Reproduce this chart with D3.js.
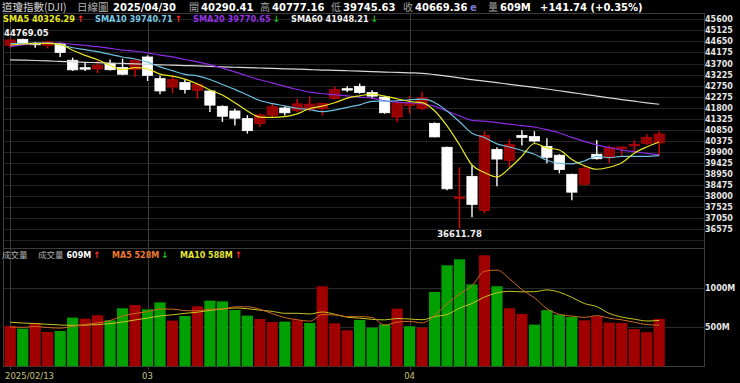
<!DOCTYPE html>
<html>
<head>
<meta charset="utf-8">
<script src="https://cdn.jsdelivr.net/npm/d3@7"></script>
<style>
  html, body { margin: 0; padding: 0; background: #000; }
  svg { display: block; }
  .num { font-family: 'DejaVu Sans', Verdana, sans-serif; font-weight: bold; }
  .cjk { font-family: 'Noto Sans CJK TC', sans-serif; }
</style>
</head>
<body>
<div class="container"></div>
<script>
const width = 740;
const height = 383;

const dates = ['2025-02-13','2025-02-14','2025-02-18','2025-02-19','2025-02-20','2025-02-21','2025-02-24','2025-02-25','2025-02-26','2025-02-27','2025-02-28',
  '2025-03-03','2025-03-04','2025-03-05','2025-03-06','2025-03-07','2025-03-10','2025-03-11','2025-03-12','2025-03-13','2025-03-14','2025-03-17','2025-03-18','2025-03-19','2025-03-20','2025-03-21','2025-03-24','2025-03-25','2025-03-26','2025-03-27','2025-03-28','2025-03-31',
  '2025-04-01','2025-04-02','2025-04-03','2025-04-04','2025-04-07','2025-04-08','2025-04-09','2025-04-10','2025-04-11','2025-04-14','2025-04-15','2025-04-16','2025-04-17','2025-04-21','2025-04-22','2025-04-23','2025-04-24','2025-04-25','2025-04-28','2025-04-29','2025-04-30'];

const opens = [44480,44740,44570,44480,44560,43840,43520,43470,43700,43530,43440,
  43980,43050,42690,42880,42550,42520,41860,41660,41330,41120,41480,41790,41690,41720,41760,42200,42620,42720,42450,42260,41400,
  41900,41760,41130,40100,37930,38850,37390,40010,39540,40610,40560,40140,39760,38940,38510,39800,39650,40050,40180,40270,40290.41];
const highs = [44769.05,44760,44620,44680,44600,43950,43720,43830,43870,43910,43880,
  44050,43190,43190,43010,42880,42540,41900,41760,41480,41550,41980,41850,42190,42290,42020,42700,42720,42840,42550,42300,42150,
  42300,42480,41170,40120,39240,39330,40790,40100,40440,40830,40790,40490,39800,38960,39330,40400,40180,40120,40400,40660,40777.16];
const lows = [44380,44500,44380,44350,43980,43380,43380,43290,43400,43200,43120,
  42950,42380,42430,42410,42190,41620,41190,41040,40690,40970,41400,41470,41600,41650,41470,42150,42480,42400,42190,41540,41190,
  41550,41690,40530,38250,36611.78,37090,37260,38420,39240,40180,40300,39410,38980,37820,38500,39580,39410,39700,39880,40200,39745.63];
const closes = [44711.43,44546.08,44556.34,44627.59,44176.65,43428.02,43461.21,43621.16,43433.12,43239.50,43840.91,
  43191.24,42520.99,43006.59,42579.08,42801.72,41911.71,41433.48,41350.93,40813.57,41488.19,41841.63,41581.31,41964.63,41953.32,41985.35,42583.32,42587.50,42454.79,42299.70,41583.90,42001.76,
  41989.96,42225.32,40545.93,38314.86,37965.60,37645.59,40608.45,39593.66,40212.71,40524.79,40368.96,39669.39,39142.23,38170.41,39186.98,39606.57,40093.40,40113.50,40227.59,40527.62,40669.36];
const prevClose = 44368.56;

// volume in millions of shares
const volumes = [517,483,555,440,453,624,611,654,590,744,786,
  731,820,586,645,769,842,833,722,650,606,568,573,590,555,1026,551,461,594,496,538,740,
  513,496,953,1295,1372,1051,1423,1026,744,671,535,720,662,632,590,641,560,556,478,437,609];

const sma5 = [44489.5,44538.0,44555.2,44562.0,44523.6,44266.9,44050.0,43862.9,43624.0,43436.6,43519.2,
  43465.2,43245.2,43159.8,43027.8,42819.9,42564.0,42346.5,42015.4,41662.3,41399.6,41385.6,41415.1,41537.9,41765.8,41865.2,42013.6,42214.8,42312.9,42382.1,42301.8,42185.5,
  42066.0,42020.1,41669.4,41015.6,40208.3,39339.5,39016.1,38825.6,39205.2,39717.0,40261.7,40073.9,39983.6,39575.2,39307.6,39155.1,39239.9,39434.2,39845.6,40113.7,40326.29];
const sma10 = [44559.1,44559.2,44572.7,44579.8,44510.2,44378.2,44294.0,44209.1,44093.0,43980.1,43893.1,
  43757.6,43554.0,43391.9,43232.2,43169.6,43014.6,42795.8,42587.6,42345.0,42109.8,41974.8,41880.8,41776.6,41714.0,41632.4,41699.6,41815.0,41925.4,42074.0,42083.5,42099.6,
  42140.4,42166.5,42025.8,41658.7,41196.9,40702.7,40518.1,40247.5,40110.4,39962.7,39800.6,39545.0,39404.6,39390.2,39512.3,39708.4,39656.9,39708.9,39710.4,39710.7,39740.71];
const sma20 = [44428.2,44497.8,44551.2,44581.3,44582.3,44525.5,44477.3,44422.7,44351.8,44278.1,44226.1,
  44158.4,44063.4,43985.9,43871.2,43773.9,43654.3,43502.5,43340.3,43162.6,43001.4,42866.2,42717.4,42584.3,42473.1,42401.0,42357.1,42305.4,42256.5,42209.5,42096.6,42037.2,
  42010.6,41971.6,41869.9,41645.6,41448.3,41258.9,41221.7,41160.7,41097.0,41031.1,40970.5,40855.8,40715.2,40524.4,40354.6,40205.6,40087.5,39978.2,39910.4,39836.7,39770.65];
const sma60 = [43859,43845,43830,43812,43790,43768,43752,43735,43720,43702,43688,
  43668,43645,43630,43612,43596,43575,43558,43540,43522,43506,43490,43473,43456,43438,43420,43405,43388,43370,43350,43333,43315,
  43298,43280,43225,43160,43085,43005,42940,42875,42805,42740,42675,42605,42530,42450,42375,42300,42225,42150,42080,42010,41948.21];

const volMa5 = [505,500,510,497,489.6,511,536.6,556.4,586.4,644.6,677,
  701,734.2,733.4,713.6,710.2,732.4,735,762.2,763.2,730.6,675.8,623.8,597.4,578.4,662.4,659,636.6,637.4,625.6,528,565.8,
  576.2,556.6,648,799.4,925.8,1033.4,1218.8,1233.4,1123.2,983,879.8,739.2,666.4,644,627.8,649,617,595.8,565,534.4,528];
const volMa10 = [565,555,548,538,530,525,528,535,548,567.1,594,
  618.8,645.3,659.9,679.1,693.6,716.7,734.6,747.8,738.4,720.4,704.1,679.4,679.8,670.8,696.5,667.4,630.2,617.4,602,595.2,612.4,
  606.4,597,636.8,663.7,745.8,804.8,887.7,940.7,961.3,954.4,956.6,979,949.9,883.6,805.4,764.4,678.1,631.1,604.5,581.1,588];

const priceTicks = [45600,45125,44650,44175,43700,43225,42750,42275,41800,41325,40850,40375,39900,39425,38950,38475,38000,37525,37050,36575];
const volTicks = [1000, 500];
const dateTicks = ['2025-02-13', '2025-03-03', '2025-04-01'];
const dateTickLabels = ['2025/02/13', '03', '04'];

// layout
const plotLeft = 3, plotRight = 704;
const plotTop = 13, plotSplit = 248, plotBottom = 366;
const n = dates.length;

const xScale = d3.scaleBand()
  .domain(dates)
  .range([4, 4 + 12.48 * n])
  .paddingInner(0.1)
  .paddingOuter(0.05);
const bw = xScale.bandwidth();
const cx = i => xScale(dates[i]) + bw / 2;

const yPrice = d3.scaleLinear().domain([36575, 45600]).range([229.3, 19.3]);
const yVol = d3.scaleLinear().domain([0, 1000]).range([366.3, 288.3]);

const svg = d3.select('.container')
  .append('svg')
  .attr('width', width)
  .attr('height', height)
  .style('background', '#000');

// grid
const priceGrid = priceTicks.concat([36100]);
svg.append('g')
  .selectAll('line')
  .data(priceGrid)
  .enter()
  .append('line')
  .attr('x1', plotLeft).attr('x2', plotRight)
  .attr('y1', d => Math.round(yPrice(d)) + 0.5)
  .attr('y2', d => Math.round(yPrice(d)) + 0.5)
  .attr('stroke', '#242424');

svg.append('g')
  .selectAll('line')
  .data(volTicks)
  .enter()
  .append('line')
  .attr('x1', plotLeft).attr('x2', plotRight)
  .attr('y1', d => Math.round(yVol(d)) + 0.5)
  .attr('y2', d => Math.round(yVol(d)) + 0.5)
  .attr('stroke', '#2a2a2a');

svg.append('g')
  .selectAll('line')
  .data(dateTicks)
  .enter()
  .append('line')
  .attr('x1', d => Math.round(xScale(d) + bw / 2) + 0.5)
  .attr('x2', d => Math.round(xScale(d) + bw / 2) + 0.5)
  .attr('y1', plotTop).attr('y2', plotBottom + 4)
  .attr('stroke', '#3a3a3a');

// frame
svg.append('rect')
  .attr('x', plotLeft + 0.5).attr('y', plotTop + 0.5)
  .attr('width', plotRight - plotLeft).attr('height', plotBottom - plotTop)
  .attr('fill', 'none').attr('stroke', '#3c3c3c');
svg.append('line')
  .attr('x1', plotLeft).attr('x2', plotRight)
  .attr('y1', plotSplit + 0.5).attr('y2', plotSplit + 0.5)
  .attr('stroke', '#3c3c3c');

// candles
const candles = svg.append('g');
dates.forEach((d, i) => {
  const up = closes[i] > opens[i];
  candles.append('line')
    .attr('x1', cx(i)).attr('x2', cx(i))
    .attr('y1', yPrice(highs[i])).attr('y2', yPrice(lows[i]))
    .attr('stroke', up ? '#e00000' : '#ffffff')
    .attr('stroke-width', 1.4);
  const y0 = yPrice(Math.max(opens[i], closes[i]));
  const y1 = yPrice(Math.min(opens[i], closes[i]));
  candles.append('rect')
    .attr('x', xScale(d) + 0.5)
    .attr('y', y0)
    .attr('width', bw - 1)
    .attr('height', Math.max(1.5, y1 - y0))
    .attr('fill', up ? '#980000' : '#ffffff')
    .attr('stroke', up ? '#b80000' : '#ffffff')
    .attr('stroke-width', 0.8);
});

// moving averages
const priceLine = arr => d3.line().x((v, i) => cx(i)).y(v => yPrice(v)).curve(d3.curveMonotoneX)(arr);
[[sma60, '#d8d8d8'], [sma20, '#8a2be2'], [sma10, '#6cc0e0'], [sma5, '#e8e820']].forEach(([arr, color]) => {
  svg.append('path')
    .attr('d', priceLine(arr))
    .attr('fill', 'none')
    .attr('stroke', color)
    .attr('stroke-width', 1.2);
});

// volume bars
svg.append('g')
  .selectAll('rect')
  .data(volumes)
  .enter()
  .append('rect')
  .attr('x', (v, i) => xScale(dates[i]))
  .attr('y', v => yVol(v))
  .attr('width', bw)
  .attr('height', v => yVol(0) - yVol(v))
  .attr('fill', (v, i) => closes[i] >= (i ? closes[i - 1] : prevClose) ? '#a00000' : '#00a000');

const volLine = arr => d3.line().x((v, i) => cx(i)).y(v => yVol(v)).curve(d3.curveMonotoneX)(arr);
[[volMa10, '#c8c820'], [volMa5, '#d06a20']].forEach(([arr, color]) => {
  svg.append('path')
    .attr('d', volLine(arr))
    .attr('fill', 'none')
    .attr('stroke', color)
    .attr('stroke-width', 1);
});

// right axis labels
svg.append('g')
  .selectAll('text')
  .data(priceTicks)
  .enter()
  .append('text')
  .attr('class', 'num')
  .attr('x', 705)
  .attr('y', d => yPrice(d) + 3)
  .attr('font-size', 8)
  .attr('fill', '#e6e6e6')
  .text(d => d);

svg.append('g')
  .selectAll('text')
  .data(volTicks)
  .enter()
  .append('text')
  .attr('class', 'num')
  .attr('x', 705)
  .attr('y', d => yVol(d) + 3)
  .attr('font-size', 8)
  .attr('fill', '#e6e6e6')
  .text(d => d + 'M');

// x labels
svg.append('g')
  .selectAll('text')
  .data(dateTicks)
  .enter()
  .append('text')
  .attr('font-family', 'DejaVu Sans, sans-serif')
  .attr('font-size', 8.5)
  .attr('fill', '#c4c47a')
  .attr('y', 379)
  .attr('x', (d, i) => i === 0 ? 5 : xScale(d) + bw / 2)
  .attr('text-anchor', (d, i) => i === 0 ? 'start' : 'middle')
  .text((d, i) => dateTickLabels[i]);

// high / low marks
const hiIdx = d3.maxIndex(highs);
const loIdx = d3.minIndex(lows);
svg.append('text')
  .attr('class', 'num').attr('font-size', 8.5).attr('fill', '#f0f0f0')
  .attr('x', Math.max(4, cx(hiIdx) - 22)).attr('y', yPrice(highs[hiIdx]) - 2.5)
  .text(highs[hiIdx].toFixed(2));
svg.append('text')
  .attr('class', 'num').attr('font-size', 8.5).attr('fill', '#f0f0f0')
  .attr('text-anchor', 'middle')
  .attr('x', cx(loIdx)).attr('y', yPrice(lows[loIdx]) + 9)
  .text(lows[loIdx].toFixed(2));

// header
const last = n - 1;
const chg = closes[last] - closes[last - 1];
const pct = chg / closes[last - 1] * 100;
const header = [
  { t: '道瓊指數(DJI)', x: 2, c: '#d0d0d0', k: 'cjk', s: 10.5 },
  { t: '日線圖', x: 77, c: '#b0b0b0', k: 'cjk', s: 10.5 },
  { t: dates[last].replace(/-/g, '/'), x: 113, c: '#ffffff', k: 'num', s: 10 },
  { t: '開', x: 189, c: '#a0a0a0', k: 'cjk', s: 10 },
  { t: opens[last].toFixed(2), x: 201, c: '#ffffff', k: 'num', s: 10 },
  { t: '高', x: 260, c: '#a0a0a0', k: 'cjk', s: 10 },
  { t: highs[last].toFixed(2), x: 272, c: '#ffffff', k: 'num', s: 10 },
  { t: '低', x: 331, c: '#a0a0a0', k: 'cjk', s: 10 },
  { t: lows[last].toFixed(2), x: 343, c: '#ffffff', k: 'num', s: 10 },
  { t: '收', x: 403, c: '#a0a0a0', k: 'cjk', s: 10 },
  { t: closes[last].toFixed(2), x: 415, c: '#ffffff', k: 'num', s: 10 },
  { t: 'e', x: 470, c: '#7a7ad0', k: 'num', s: 10 },
  { t: '量', x: 488, c: '#a0a0a0', k: 'cjk', s: 10 },
  { t: volumes[last] + 'M', x: 500, c: '#ffffff', k: 'num', s: 10 },
  { t: (chg >= 0 ? '+' : '') + chg.toFixed(2) + ' (' + (pct >= 0 ? '+' : '') + pct.toFixed(2) + '%)', x: 540, c: '#ffffff', k: 'num', s: 10 }
];
svg.append('g')
  .selectAll('text')
  .data(header)
  .enter()
  .append('text')
  .attr('class', d => d.k)
  .attr('x', d => d.x)
  .attr('y', 11)
  .attr('font-size', d => d.s)
  .attr('fill', d => d.c)
  .text(d => d.t);

const arrow = (a, b) => a >= b ? { t: '↑', c: '#ff2a2a' } : { t: '↓', c: '#20c020' };
const legend = [
  { name: 'SMA5', arr: sma5, x: 3, c: '#e8e820' },
  { name: 'SMA10', arr: sma10, x: 95, c: '#78c8e6' },
  { name: 'SMA20', arr: sma20, x: 193, c: '#9632e6' },
  { name: 'SMA60', arr: sma60, x: 291, c: '#f0f0f0' }
];
legend.forEach(d => {
  const t = svg.append('text')
    .attr('class', 'num').attr('font-size', 8.2)
    .attr('x', d.x).attr('y', 22)
    .attr('fill', d.c)
    .text(d.name + ' ' + d.arr[last].toFixed(2));
  const a = arrow(d.arr[last], d.arr[last - 1]);
  svg.append('text')
    .attr('class', 'num').attr('font-size', 9)
    .attr('x', d.x + t.node().getComputedTextLength() + 2).attr('y', 22)
    .attr('fill', a.c)
    .text(a.t);
});

// volume legend
svg.append('text').attr('class', 'cjk').attr('font-size', 8.5).attr('fill', '#b0b0b0')
  .attr('x', 2).attr('y', 258).text('成交量');
const volLegend = [
  { pre: '成交量 ', name: '', val: volumes[last], prev: volumes[last - 1], x: 38, c: '#ffffff' },
  { pre: '', name: 'MA5 ', val: volMa5[last], prev: volMa5[last - 1], x: 112, c: '#f07a30' },
  { pre: '', name: 'MA10 ', val: volMa10[last], prev: volMa10[last - 1], x: 180, c: '#e6e632' }
];
volLegend.forEach(d => {
  let xx = d.x;
  if (d.pre) {
    const p = svg.append('text').attr('class', 'cjk').attr('font-size', 8.5).attr('fill', '#b0b0b0')
      .attr('x', xx).attr('y', 258).text(d.pre);
    xx += p.node().getComputedTextLength() + 3;
  }
  const t = svg.append('text')
    .attr('class', 'num').attr('font-size', 8)
    .attr('x', xx).attr('y', 258)
    .attr('fill', d.c)
    .text(d.name + Math.round(d.val) + 'M');
  const a = arrow(d.val, d.prev);
  svg.append('text')
    .attr('class', 'num').attr('font-size', 9)
    .attr('x', xx + t.node().getComputedTextLength() + 2).attr('y', 258)
    .attr('fill', a.c)
    .text(a.t);
});
</script>
</body>
</html>
